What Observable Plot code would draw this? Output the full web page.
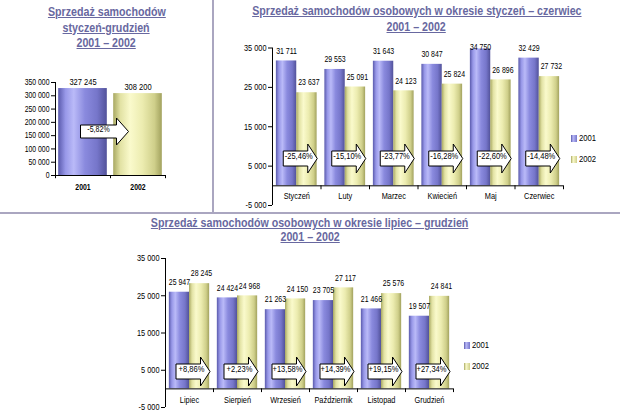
<!DOCTYPE html>
<html><head><meta charset="utf-8">
<script src="https://cdn.jsdelivr.net/npm/d3@7"></script>
<script src="https://cdn.jsdelivr.net/npm/@observablehq/plot@0.6"></script>
<style>
  body { margin: 0; background: #fff; }
  #wrap { position: relative; width: 620px; height: 415px; overflow: hidden;
          font-family: "Liberation Sans", Arial, sans-serif; }
  #wrap svg { position: absolute; left: 0; top: 0; }
  .title { position: absolute; text-align: center; font-weight: bold; font-size: 13px;
           line-height: 15.5px; color: #6868a0; white-space: nowrap; }
  .title span { display: inline-block; transform: scaleX(0.82); text-decoration: underline; }
  .sep { position: absolute; background: #aaa6c0; }
  .leg { position: absolute; font-size: 9.4px; line-height: 10px; color: #000; transform: scaleX(0.82); transform-origin: left center; }
  .sw { position: absolute; width: 6px; height: 7px; }
</style>
</head><body>
<div id="wrap">
  <div class="sep" style="left:212px;top:0;width:2px;height:213px"></div>
  <div class="sep" style="left:0;top:212px;width:620px;height:2px"></div>
  <div class="title" style="left:0;width:213px;top:4px"><span>Sprzedaż samochodów</span><br><span>styczeń-grudzień</span><br><span>2001 – 2002</span></div>
  <div class="title" style="left:213px;width:407px;top:3px"><span>Sprzedaż samochodów osobowych w okresie styczeń – czerwiec</span><br><span>2001 – 2002</span></div>
  <div class="title" style="left:0;width:620px;top:216px;line-height:14px"><span>Sprzedaż samochodów osobowych w okresie lipiec – grudzień</span><br><span>2001 – 2002</span></div>
</div>
<script>
// ---------- data ----------
const totalYears = ["2001", "2002"];
const totalValues = [327245, 308200];
const totalChange = "-5,82%";
const totalTicks = [0, 50000, 100000, 150000, 200000, 250000, 300000, 350000];

const monthsH1 = ["Styczeń", "Luty", "Marzec", "Kwiecień", "Maj", "Czerwiec"];
const sales2001H1 = [31711, 29553, 31643, 30847, 34750, 32429];
const sales2002H1 = [23637, 25091, 24123, 25824, 26896, 27732];
const changeH1 = ["-25,46%", "-15,10%", "-23,77%", "-16,28%", "-22,60%", "-14,48%"];

const monthsH2 = ["Lipiec", "Sierpień", "Wrzesień", "Październik", "Listopad", "Grudzień"];
const sales2001H2 = [25947, 24424, 21263, 23705, 21466, 19507];
const sales2002H2 = [28245, 24968, 24150, 27117, 25576, 24841];
const changeH2 = ["+8,86%", "+2,23%", "+13,58%", "+14,39%", "+19,15%", "+27,34%"];

const monthTicks = [-5000, 5000, 15000, 25000, 35000];
const seriesNames = ["2001", "2002"];

// ---------- helpers ----------
const FONT = '"Liberation Sans", Arial, sans-serif';
const NARROW = 0.82;
const fmt = d3.formatLocale({decimal: ",", thousands: " ", grouping: [3], currency: ["", ""], minus: "-"}).format(",");
const wrap = document.getElementById("wrap");

// condense every SVG text around its own anchor (emulates Arial Narrow)
function narrow(svg) {
  svg.querySelectorAll("text").forEach(t => {
    const x = +(t.getAttribute("x") || 0);
    const tr = t.getAttribute("transform") || "";
    t.setAttribute("transform", `${tr} translate(${x},0) scale(${NARROW},1) translate(${-x},0)`);
  });
  return svg;
}

function gradDefs(id) {
  return () => {
    const defs = document.createElementNS("http://www.w3.org/2000/svg", "defs");
    defs.innerHTML = `
      <linearGradient id="${id}-a" x1="0" x2="1" y1="0" y2="0">
        <stop offset="0" stop-color="#5a5aac"/>
        <stop offset="0.15" stop-color="#9898e8"/>
        <stop offset="0.32" stop-color="#babaf8"/>
        <stop offset="0.55" stop-color="#8a8ade"/>
        <stop offset="0.8" stop-color="#7676ca"/>
        <stop offset="1" stop-color="#52529a"/>
      </linearGradient>
      <linearGradient id="${id}-b" x1="0" x2="1" y1="0" y2="0">
        <stop offset="0" stop-color="#a8a862"/>
        <stop offset="0.15" stop-color="#e2e2a4"/>
        <stop offset="0.35" stop-color="#fafacc"/>
        <stop offset="0.6" stop-color="#ececb0"/>
        <stop offset="0.85" stop-color="#cfcf8a"/>
        <stop offset="1" stop-color="#a2a25e"/>
      </linearGradient>`;
    return defs;
  };
}

function arrowSymbol(l, r, tip, hr, hh) {
  return {draw(ctx) {
    ctx.moveTo(l, -hr); ctx.lineTo(r, -hr); ctx.lineTo(r, -hh); ctx.lineTo(tip, 0);
    ctx.lineTo(r, hh); ctx.lineTo(r, hr); ctx.lineTo(l, hr); ctx.closePath();
  }};
}
const arrowMonth = arrowSymbol(-13.5, 11, 20.5, 7.5, 14.5);
const arrowTotal = arrowSymbol(-30, 6, 18, 6.5, 13.5);

const HALF = 0.42;

// ---------- panel 1: total ----------
const totalRows = totalYears.map((y, i) => ({year: y, i, value: totalValues[i]}));
const p1 = Plot.plot({
  width: 620, height: 415,
  marginTop: 82, marginBottom: 240, marginLeft: 55, marginRight: 455,
  style: {fontFamily: FONT, fontSize: "9px", color: "#000", background: "transparent", overflow: "visible"},
  x: {domain: [0, totalYears.length], axis: null},
  y: {domain: [0, 350000], axis: null},
  marks: [
    gradDefs("t"),
    Plot.rectY(totalRows, {x1: d => d.i + 0.5 - 0.442, x2: d => d.i + 0.5 + 0.442, y1: 0, y2: "value",
      fill: d => d.i === 0 ? "url(#t-a)" : "url(#t-b)"}),
    Plot.ruleX([0], {stroke: "#000"}),
    Plot.ruleY([0], {stroke: "#000"}),
    Plot.ruleX(d3.range(totalYears.length + 1), {y1: 0, y2: -12000, stroke: "#000"}),
    Plot.axisY({ticks: totalTicks, tickFormat: fmt, tickSize: 4, tickPadding: 2, fontSize: 8.4, label: null}),
    Plot.text(totalRows, {x: d => d.i + 0.5, y: "value", dy: -7, text: d => fmt(d.value), fontSize: 9.2}),
    Plot.text(totalRows, {x: d => d.i + 0.5, frameAnchor: "bottom", dy: 14, text: "year", fontWeight: "bold", fontSize: 8.4}),
    Plot.dot([totalChange], {x: () => 1, frameAnchor: "bottom", dy: -44, symbol: arrowTotal, r: 5, fill: "#fff", stroke: "#000", strokeWidth: 1}),
    Plot.text([totalChange], {x: () => 1, frameAnchor: "bottom", dy: -44, dx: -12, text: d => d, fontSize: 8.6})
  ]
});
wrap.appendChild(narrow(p1));

// ---------- monthly panels ----------
function monthPanel({months, v1, v2, changes, id, marginTop, marginBottom, marginLeft, marginRight, catDy, arrowDy}) {
  const rows = months.map((m, i) => ({month: m, i, a: v1[i], b: v2[i], c: changes[i]}));
  const labelY = v => Math.min(v, 32600);
  return Plot.plot({
    width: 620, height: 415, marginTop, marginBottom, marginLeft, marginRight,
    style: {fontFamily: FONT, fontSize: "9px", color: "#000", background: "transparent", overflow: "visible"},
    x: {domain: [0, months.length], axis: null},
    y: {domain: [-5000, 35000], axis: null},
    marks: [
      gradDefs(id),
      Plot.rectY(rows, {x1: d => d.i + 0.5 - HALF, x2: d => d.i + 0.5, y1: 0, y2: "a", fill: `url(#${id}-a)`}),
      Plot.rectY(rows, {x1: d => d.i + 0.5, x2: d => d.i + 0.5 + HALF, y1: 0, y2: "b", fill: `url(#${id}-b)`}),
      Plot.ruleX([0], {stroke: "#000"}),
      Plot.ruleY([0], {stroke: "#000"}),
      Plot.ruleX(d3.range(months.length + 1), {y1: 0, y2: -1000, stroke: "#000"}),
      Plot.axisY({ticks: monthTicks, tickFormat: fmt, tickSize: 4, tickPadding: 2, fontSize: 9, label: null}),
      Plot.text(rows, {x: d => d.i + 0.5 - HALF / 2, y: d => labelY(d.a), dy: -10, text: d => fmt(d.a), fontSize: 8.5}),
      Plot.text(rows, {x: d => d.i + 0.5 + HALF / 2 + 0.04, y: d => labelY(d.b), dy: -10, text: d => fmt(d.b), fontSize: 8.5}),
      Plot.text(rows, {x: d => d.i + 0.5, frameAnchor: "bottom", dy: catDy, text: "month", fontSize: 9}),
      Plot.dot(rows, {x: d => d.i + 0.5, frameAnchor: "bottom", dy: arrowDy, symbol: arrowMonth, r: 5, fill: "#fff", stroke: "#000", strokeWidth: 1}),
      Plot.text(rows, {x: d => d.i + 0.5, frameAnchor: "bottom", dy: arrowDy, dx: 2, text: "c", fontSize: 9.2})
    ]
  });
}

wrap.appendChild(narrow(monthPanel({months: monthsH1, v1: sales2001H1, v2: sales2002H1, changes: changeH1, id: "h1",
  marginTop: 47.5, marginBottom: 210, marginLeft: 272, marginRight: 57, catDy: -6.5, arrowDy: -47})));
wrap.appendChild(narrow(monthPanel({months: monthsH2, v1: sales2001H2, v2: sales2002H2, changes: changeH2, id: "h2",
  marginTop: 258, marginBottom: 8, marginLeft: 165, marginRight: 167, catDy: -4.5, arrowDy: -36})));

// ---------- legends ----------
function legend(x, ys) {
  const fills = ["linear-gradient(90deg,#5a5aac,#babaf8 35%,#7676ca)", "linear-gradient(90deg,#a8a862,#fafacc 35%,#cfcf8a)"];
  seriesNames.forEach((name, k) => {
    const sw = document.createElement("div");
    sw.className = "sw";
    sw.style.left = x + "px"; sw.style.top = (ys[k] - 3.5) + "px"; sw.style.background = fills[k];
    wrap.appendChild(sw);
    const t = document.createElement("div");
    t.className = "leg";
    t.style.left = (x + 8) + "px"; t.style.top = (ys[k] - 5) + "px";
    t.textContent = name;
    wrap.appendChild(t);
  });
}
legend(571, [138, 159]);
legend(464, [345, 366]);
</script>
</body></html>
